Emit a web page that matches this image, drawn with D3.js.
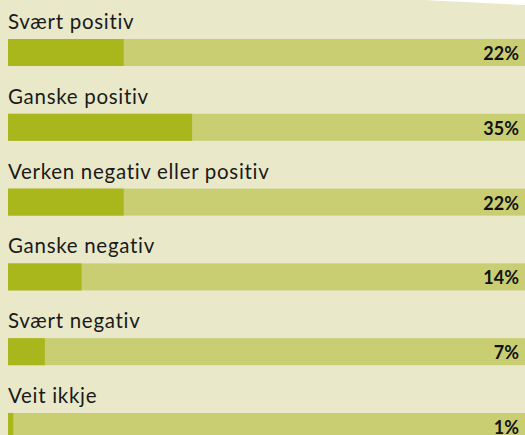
<!DOCTYPE html>
<html>
<head>
<meta charset="utf-8">
<script src="https://cdn.jsdelivr.net/npm/d3@7"></script>
<style>
  html, body { margin: 0; padding: 0; background: #e9e9ca; }
  svg { display: block; }
</style>
</head>
<body>
<div id="chart"></div>
<script>
const categories = ["Svært positiv", "Ganske positiv", "Verken negativ eller positiv", "Ganske negativ", "Svært negativ", "Veit ikkje"];
const values = [22, 35, 22, 14, 7, 1];
const valueLabels = ["22%", "35%", "22%", "14%", "7%", "1%"];

const width = 525, height = 435;
const barH = 27;

const svg = d3.select("#chart")
  .append("svg")
    .attr("width", width)
    .attr("height", height);

svg.append("rect")
  .attr("width", width)
  .attr("height", height)
  .attr("fill", "#e9e9ca");

// little white page corner top right
svg.append("path")
  .attr("d", "M423,0 L525,0 L525,5 Z")
  .attr("fill", "#ffffff");

const x = d3.scaleLinear()
  .domain([0, 100])
  .range([8, 534]);

const y = d3.scalePoint()
  .domain(categories)
  .range([39, 413]);

const rows = svg.selectAll("g.row")
  .data(categories.map((c, i) => ({ cat: c, v: values[i], lab: valueLabels[i] })))
  .join("g")
    .attr("class", "row")
    .attr("transform", d => `translate(0, ${y(d.cat)})`);

rows.append("rect")
  .attr("x", x(0))
  .attr("width", x(100) - x(0))
  .attr("height", barH)
  .attr("fill", "#c9ce73");

rows.append("rect")
  .attr("x", x(0))
  .attr("width", d => x(d.v) - x(0))
  .attr("height", barH)
  .attr("fill", "#aab71c");

rows.append("text")
  .attr("x", 8)
  .attr("y", -10)
  .attr("font-family", "Lato, 'Open Sans', sans-serif")
  .attr("font-size", 20.5)
  .attr("letter-spacing", 0.7)
  .attr("fill", "#1a1a1a")
  .text(d => d.cat);

rows.append("text")
  .attr("x", 519)
  .attr("y", 21)
  .attr("text-anchor", "end")
  .attr("font-family", "Lato, 'Open Sans', sans-serif")
  .attr("font-weight", "bold")
  .attr("font-size", 18)
  .attr("fill", "#111")
  .text(d => d.lab);
</script>
</body>
</html>
